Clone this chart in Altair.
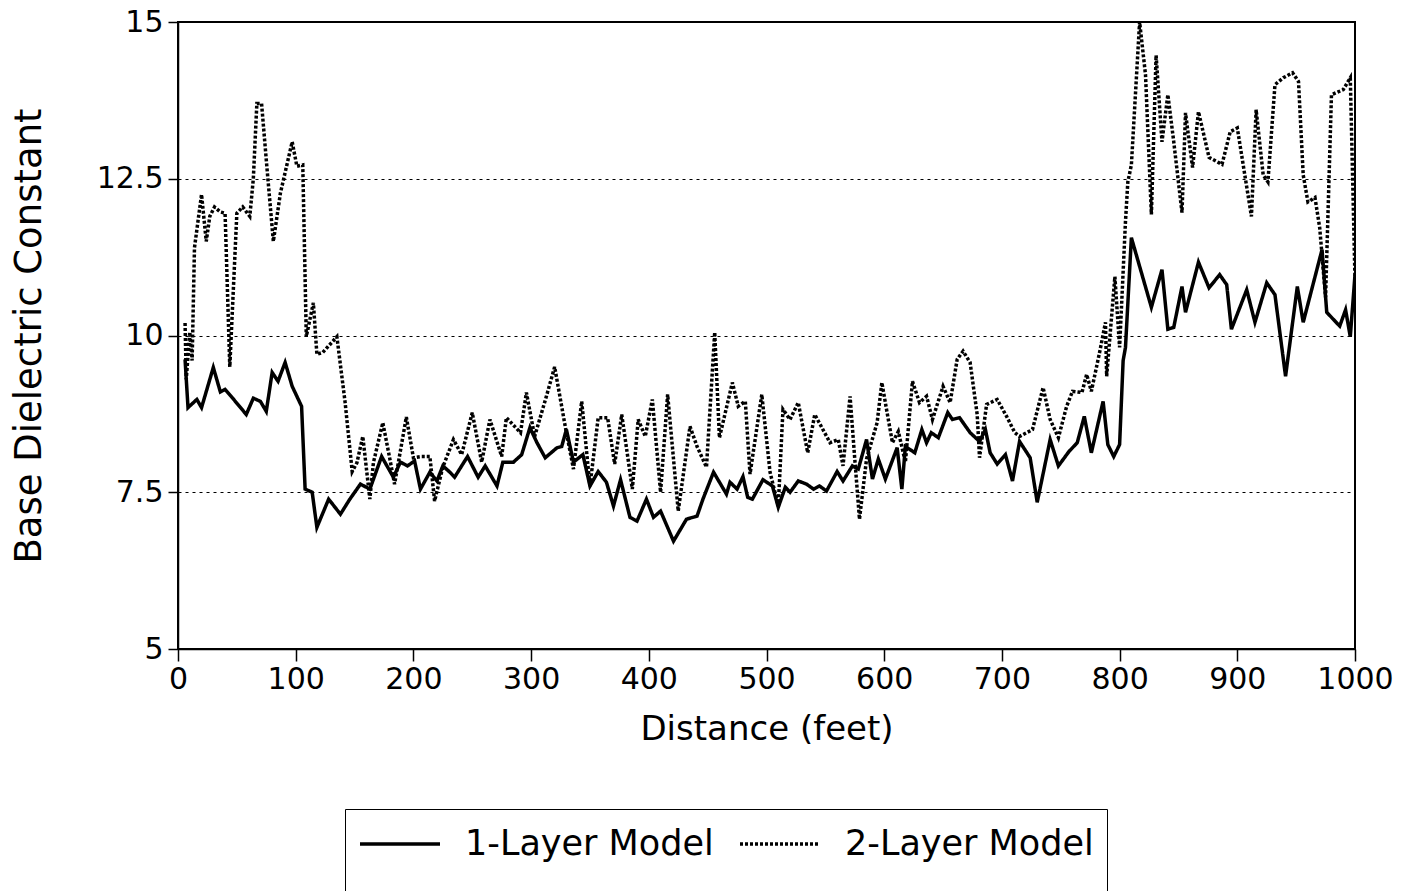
import altair as alt
import pandas as pd

# ---- data ----
series_names = ["1-Layer Model", "2-Layer Model"]

dist_1layer = [6, 8.5, 16, 20, 30, 36, 40, 46, 58, 64, 70, 75, 80, 85, 91, 97, 105, 108, 114, 118,
               128, 138, 146, 155, 163, 173, 183, 189, 195, 201, 206, 214, 220, 225, 231, 235, 246,
               255, 261, 271, 276, 285, 292, 299, 305, 312, 322, 326, 330, 336, 344, 350, 357, 364,
               370, 376, 384, 390, 398, 404, 410, 421, 432, 441, 446, 455, 466, 469, 475, 480, 484,
               488, 497, 505, 510, 516, 520, 527, 534, 540, 545, 551, 560, 565, 573, 578, 585, 590,
               595, 601, 611, 615, 618, 626, 632, 636, 640, 646, 654, 658, 664, 673, 681, 686, 690,
               696, 703, 709, 715, 724, 730, 741, 748, 757, 764, 770, 776, 786, 790, 795, 800, 803,
               805, 810, 827, 836, 841, 846, 853, 856, 867, 876, 885, 891, 895, 908, 915, 925, 932,
               941, 951, 956, 972, 976, 987, 992, 996, 1000]
val_1layer = [9.62, 8.85, 8.98, 8.85, 9.49, 9.1, 9.14, 9.01, 8.74, 9.0, 8.95, 8.79, 9.41, 9.27, 9.57,
              9.19, 8.87, 7.55, 7.5, 6.94, 7.39, 7.15, 7.39, 7.63, 7.55, 8.07, 7.74, 7.98, 7.92, 8.0,
              7.55, 7.82, 7.68, 7.92, 7.82, 7.74, 8.07, 7.74, 7.92, 7.6, 7.98, 7.98, 8.1, 8.53, 8.29,
              8.05, 8.21, 8.23, 8.5, 7.98, 8.1, 7.6, 7.83, 7.66, 7.28, 7.7, 7.1, 7.04, 7.39, 7.1,
              7.2, 6.72, 7.07, 7.12, 7.39, 7.82, 7.47, 7.66, 7.55, 7.75, 7.42, 7.39, 7.7, 7.6, 7.26,
              7.58, 7.5, 7.68, 7.63, 7.55, 7.6, 7.52, 7.83, 7.68, 7.92, 7.87, 8.34, 7.71, 8.03, 7.71,
              8.21, 7.55, 8.23, 8.13, 8.5, 8.29, 8.45, 8.37, 8.77, 8.66, 8.69, 8.45, 8.31, 8.5, 8.13,
              7.95, 8.1, 7.68, 8.31, 8.05, 7.34, 8.34, 7.92, 8.15, 8.29, 8.71, 8.13, 8.95, 8.26, 8.07,
              8.26, 9.6, 9.81, 11.56, 10.45, 11.05, 10.1, 10.13, 10.78, 10.37, 11.17, 10.76, 10.97,
              10.81, 10.1, 10.73, 10.21, 10.84, 10.65, 9.35, 10.78, 10.21, 11.37, 10.37, 10.15,
              10.41, 9.98, 10.97]

dist_2layer = [6, 7, 10, 12, 14, 20, 24, 27, 31, 36, 40, 44, 50, 55, 61, 64, 67, 71, 75, 81, 87, 97,
               101, 106, 109, 115, 118, 123, 135, 142, 148, 152, 157, 163, 166, 174, 180, 184, 194,
               200, 207, 214, 218, 225, 234, 241, 250, 258, 265, 275, 279, 291, 296, 303, 313, 320,
               329, 336, 343, 350, 357, 365, 371, 377, 386, 391, 397, 403, 410, 416, 425, 435, 441,
               449, 456, 460, 471, 476, 482, 486, 496, 503, 510, 514, 520, 527, 535, 541, 554, 561,
               565, 571, 575, 579, 585, 594, 598, 602, 607, 612, 618, 624, 630, 636, 641, 650, 656,
               662, 667, 673, 679, 681, 687, 696, 704, 711, 715, 726, 735, 741, 748, 755, 760, 768,
               772, 776, 783, 788, 789, 796, 800, 805, 807, 810, 817, 822, 827, 831, 836, 841, 846,
               853, 856, 862, 867, 876, 887, 894, 900, 912, 916, 922, 926, 932, 939, 947, 952, 956,
               960, 966, 970, 975, 980, 990, 996, 1000]
val_2layer = [10.2, 9.3, 10.05, 9.6, 11.4, 12.25, 11.5, 11.9, 12.05, 11.97, 11.95, 9.5, 11.95, 12.05,
              11.9, 12.5, 13.7, 13.7, 12.8, 11.5, 12.27, 13.09, 12.7, 12.72, 9.98, 10.52, 9.7, 9.73,
              9.98, 8.93, 7.83, 7.97, 8.39, 7.39, 7.97, 8.61, 8.03, 7.63, 8.7, 8.05, 8.07, 8.07, 7.36,
              7.9, 8.34, 8.1, 8.77, 7.98, 8.66, 8.07, 8.69, 8.45, 9.09, 8.39, 9.03, 9.5, 8.55, 7.87,
              8.95, 7.6, 8.69, 8.69, 7.95, 8.74, 7.55, 8.66, 8.39, 8.98, 7.5, 9.06, 7.2, 8.55, 8.23,
              7.9, 10.05, 8.37, 9.25, 8.87, 8.95, 7.79, 9.06, 7.82, 7.28, 8.82, 8.66, 8.93, 8.13, 8.74,
              8.29, 8.34, 7.92, 9.03, 8.03, 7.07, 8.03, 8.61, 9.25, 8.82, 8.29, 8.47, 7.98, 9.27, 8.93,
              9.03, 8.66, 9.19, 8.93, 9.62, 9.75, 9.57, 8.74, 8.05, 8.9, 8.98, 8.71, 8.45, 8.39, 8.5,
              9.17, 8.66, 8.37, 8.87, 9.11, 9.09, 9.38, 9.11, 9.73, 10.21, 9.35, 10.94, 9.81, 11.82,
              12.45, 12.72, 15.0, 14.16, 11.93, 14.47, 13.09, 13.84, 13.09, 11.96, 13.55, 12.68, 13.57,
              12.84, 12.73, 13.25, 13.31, 11.9, 13.6, 12.56, 12.45, 14.0, 14.11, 14.19, 14.05, 12.56,
              12.13, 12.2, 11.72, 10.61, 13.84, 13.92, 14.11, 10.9]

x_ticks = [0, 100, 200, 300, 400, 500, 600, 700, 800, 900, 1000]
y_ticks = [5, 7.5, 10, 12.5, 15]

df = pd.concat([
    pd.DataFrame({"distance": dist_1layer, "value": val_1layer, "series": series_names[0]}),
    pd.DataFrame({"distance": dist_2layer, "value": val_2layer, "series": series_names[1]}),
], ignore_index=True)

FONT = "DejaVu Sans"
# invisible spacer text that extends the legend frame below the page edge
legend_spacer = "\u00a0" * 20

chart = alt.Chart(df).mark_line(color="black", strokeWidth=3.5, clip=True).encode(
    x=alt.X("distance:Q",
            scale=alt.Scale(domain=[0, 1000], nice=False, zero=False),
            axis=alt.Axis(values=x_ticks, format="d", grid=False, title="Distance (feet)",
                          tickSize=12, tickWidth=1.5, tickColor="black",
                          domainColor="black", domainWidth=1.5,
                          labelFont=FONT, labelFontSize=30, labelColor="black",
                          labelPadding=3, labelFlush=False,
                          titleFont=FONT, titleFontSize=34, titleFontWeight="normal",
                          titleColor="black", titlePadding=18)),
    y=alt.Y("value:Q",
            scale=alt.Scale(domain=[5, 15], nice=False, zero=False),
            axis=alt.Axis(values=y_ticks, labelExpr="'' + datum.value", grid=True,
                          gridDash=[3, 4], gridColor="black", gridWidth=1.2,
                          gridOpacity={"condition": {"test": "datum.value == 5 || datum.value == 15",
                                                     "value": 0}, "value": 1},
                          title="Base Dielectric Constant",
                          tickSize=10, tickWidth=1.5, tickColor="black",
                          domainColor="black", domainWidth=1.5,
                          labelFont=FONT, labelFontSize=30, labelColor="black",
                          labelPadding=5, labelFlush=False,
                          titleFont=FONT, titleFontSize=37, titleFontWeight="normal",
                          titleColor="black", titlePadding=48)),
    strokeDash=alt.StrokeDash("series:N",
                              scale=alt.Scale(domain=series_names, range=[[1, 0], [3, 2]]),
                              legend=alt.Legend(title=legend_spacer, titleOrient="bottom",
                                                titleAnchor="start", titlePadding=10,
                                                titleFont=FONT, titleFontSize=20, titleLimit=2000,
                                                orient="none", legendX=167, legendY=787,
                                                direction="horizontal",
                                                symbolType="M-1,0H3",
                                                symbolSize=1600, symbolStrokeWidth=3.5,
                                                symbolStrokeColor="black",
                                                labelFont=FONT, labelFontSize=35, labelColor="black",
                                                labelLimit=500, labelOffset=63, columnPadding=19,
                                                padding=13, strokeColor="black")),
).properties(
    width=1177,
    height=627,
    autosize=alt.AutoSizeParams(type="none"),
    padding={"left": 178, "top": 22, "right": 53, "bottom": 242},
).configure(
    background="white"
).configure_view(
    stroke="black", strokeWidth=2
)

chart.save("out.html", embed_options={"renderer": "svg", "actions": False})
